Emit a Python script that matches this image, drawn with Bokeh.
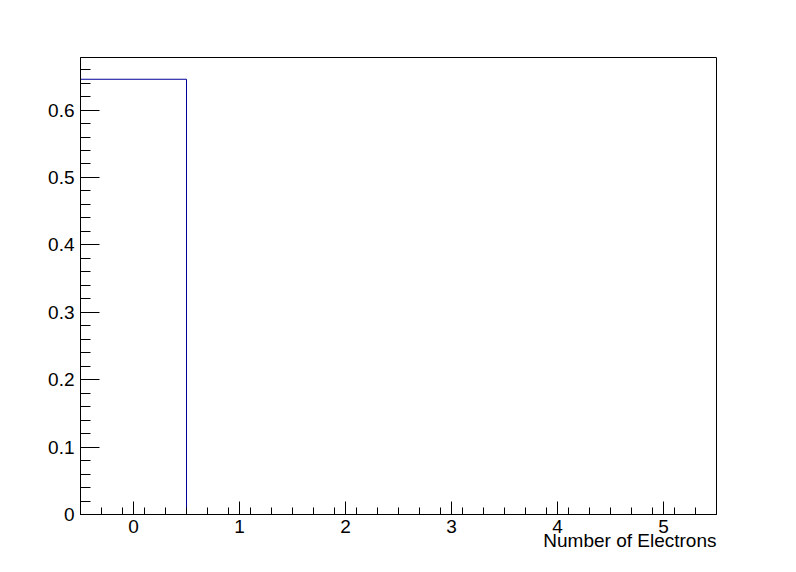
import numpy as np
from bokeh.plotting import figure
from bokeh.models import Range1d, FixedTicker, Title
from bokeh.embed import file_html
from bokeh.resources import INLINE

# Data
bin_edges = [-0.5, 0.5, 1.5, 2.5, 3.5, 4.5, 5.5]
bin_values = [0.6457, 0.0, 0.0, 0.0, 0.0, 0.0]
x_major_ticks = [0, 1, 2, 3, 4, 5]
y_major_ticks = [0.0, 0.1, 0.2, 0.3, 0.4, 0.5, 0.6]
y_tick_labels = ["0", "0.1", "0.2", "0.3", "0.4", "0.5", "0.6"]
x_label = "Number of Electrons"

FONT = "Liberation Sans"

ymax = max(bin_values) * 1.05

p = figure(width=780, height=560, output_backend="svg", toolbar_location=None,
           x_range=Range1d(bin_edges[0], bin_edges[-1]), y_range=Range1d(0, ymax),
           min_border_left=80, min_border_right=64, min_border_top=57, min_border_bottom=46)
p.background_fill_color = "white"
p.border_fill_color = "white"
p.outline_line_color = "black"
p.outline_line_width = 1
p.xgrid.visible = False
p.ygrid.visible = False

# histogram outline
xs = list(bin_edges)
ys = list(bin_values) + [bin_values[-1]]
p.step(xs, ys, mode="after", line_color="#000099", line_width=1)

x_minor = [round(v, 2) for v in np.arange(bin_edges[0], bin_edges[-1] + 1e-9, 0.2)
           if abs(v - round(v)) > 1e-6]
y_minor = [round(v, 3) for v in np.arange(0, ymax, 0.02)
           if abs(v * 10 - round(v * 10)) > 1e-6]

xa = p.xaxis[0]
xa.ticker = FixedTicker(ticks=x_major_ticks, minor_ticks=x_minor)
xa.major_tick_in = 13
xa.major_tick_out = 0
xa.minor_tick_in = 7
xa.minor_tick_out = 0
xa.major_label_standoff = 5
xa.major_label_text_font = FONT
xa.major_label_text_font_size = "19px"
xa.major_label_text_color = "black"
xa.axis_line_color = "black"
xa.major_tick_line_color = "black"
xa.minor_tick_line_color = "black"

ya = p.yaxis[0]
ya.ticker = FixedTicker(ticks=y_major_ticks, minor_ticks=y_minor)
ya.major_label_overrides = {t: s for t, s in zip(y_major_ticks, y_tick_labels)}
ya.major_tick_in = 19
ya.major_tick_out = 0
ya.minor_tick_in = 10
ya.minor_tick_out = 0
ya.major_label_standoff = 6
ya.major_label_text_font = FONT
ya.major_label_text_font_size = "19px"
ya.major_label_text_color = "black"
ya.axis_line_color = "black"
ya.major_tick_line_color = "black"
ya.minor_tick_line_color = "black"

t = Title(text=x_label, align="right", standoff=-15,
          text_font=FONT, text_font_size="19px", text_font_style="normal",
          text_color="black")
p.add_layout(t, "below")

open("out.html", "w").write(file_html(p, INLINE))
